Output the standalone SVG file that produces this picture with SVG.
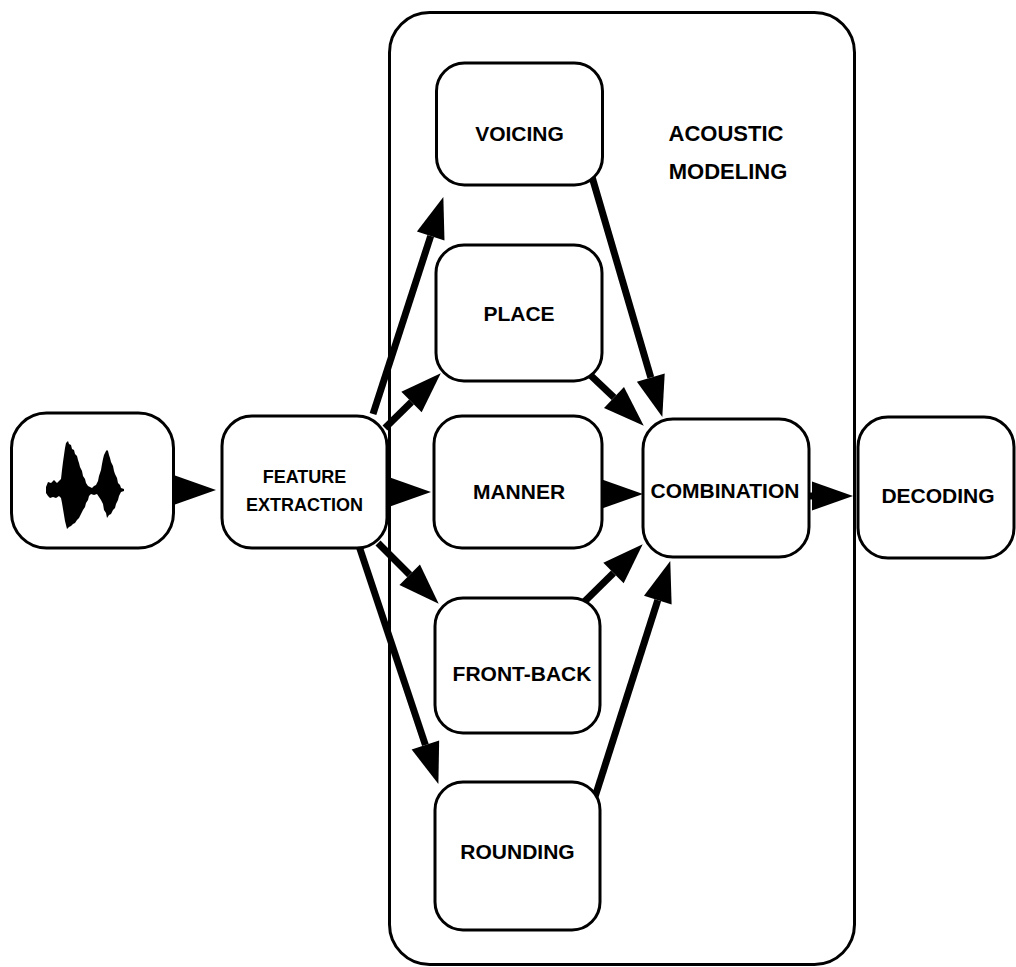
<svg xmlns="http://www.w3.org/2000/svg" width="1016" height="967" viewBox="0 0 1016 967">
<style>
.box{fill:#fff;stroke:#000;stroke-width:3}
.cont{fill:#fff;stroke:#000;stroke-width:3}
.arr{fill:none;stroke:#000;stroke-width:7;marker-end:url(#head)}
.lbl{font-family:"Liberation Sans",Arial,sans-serif;font-weight:bold;font-size:21px;text-anchor:middle;fill:#000}
.fe{font-size:18px}
.am{font-size:22px}
</style>
<defs>
<marker id="head" markerUnits="userSpaceOnUse" markerWidth="42" markerHeight="30" refX="0" refY="14.5" orient="auto" overflow="visible">
<path d="M0,0 L41,14.5 L0,29 z" fill="#000"/>
</marker>
</defs>
<rect id="acoustic-modeling" class="cont" x="389.5" y="12.5" width="465" height="952" rx="40"/>
<text class="lbl am" x="726" y="141">ACOUSTIC</text>
<text class="lbl am" x="728" y="179">MODELING</text>
<g id="connectors">
<path class="arr" d="M170,490 L175,490"/>
<path class="arr" d="M385,492 L390,492"/>
<path class="arr" d="M598,494 L602,494"/>
<path class="arr" d="M806,496 L812,496"/>
<path class="arr" d="M373,414 L430.7,236"/>
<path class="arr" d="M385,428 L411.5,402"/>
<path class="arr" d="M378,543 L409.7,574.7"/>
<path class="arr" d="M359,546 L425.4,745"/>
<path class="arr" d="M590,170 L650.8,377.6"/>
<path class="arr" d="M585,370 L614,397.5"/>
<path class="arr" d="M580,606 L613.5,573"/>
<path class="arr" d="M594,800 L657.8,600.1"/>
</g>
<g id="waveform">
<rect class="box" x="11.5" y="413" width="162" height="135" rx="35"/>
<path fill="#000" d="M46,487 L48,482 L51,483 L54,480 L57,483 L59,481 L61,479 L62,470 L63,462 L64,455 L65,448 L66,443 L68,441 L69,444 L71,445 L72,449 L74,450 L75,454 L77,456 L78,460 L79,463 L80,467 L82,471 L83,476 L85,479 L86,483 L88,486 L90,487 L92,488 L94,486 L96,485 L98,481 L99,476 L101,470 L102,464 L103,459 L104,455 L106,451 L107,450 L108,451 L109,455 L110,458 L111,462 L113,466 L114,471 L115,474 L117,478 L118,483 L120,485 L121,488 L124,489 L124,491 L121,492 L119,496 L118,500 L116,504 L115,508 L113,510 L111,514 L109,515 L107,518 L106,513 L104,510 L103,504 L101,500 L99,497 L97,494 L94,495 L91,494 L89,496 L88,500 L86,503 L85,507 L83,510 L81,514 L79,518 L77,520 L75,523 L73,524 L71,526 L69,527 L67,529 L66,525 L65,521 L64,515 L63,509 L62,503 L61,498 L59,496 L56,498 L53,497 L50,498 L48,496 L46,493 z"/>
</g>
<g id="feature-extraction">
<rect class="box" x="222" y="416" width="165" height="132" rx="30"/>
<text class="lbl fe" x="304.5" y="483">FEATURE</text>
<text class="lbl fe" x="304.5" y="511">EXTRACTION</text>
</g>
<g id="voicing">
<rect class="box" x="436.5" y="63" width="166" height="122" rx="28"/>
<text class="lbl" x="519.5" y="141">VOICING</text>
</g>
<g id="place">
<rect class="box" x="436" y="245" width="166" height="136" rx="28"/>
<text class="lbl" x="519" y="321">PLACE</text>
</g>
<g id="manner">
<rect class="box" x="434" y="416" width="168" height="132" rx="28"/>
<text class="lbl" x="519" y="499">MANNER</text>
</g>
<g id="front-back">
<rect class="box" x="435" y="598" width="165" height="135" rx="28"/>
<text class="lbl" x="522" y="681">FRONT-BACK</text>
</g>
<g id="rounding">
<rect class="box" x="435" y="782" width="165" height="148" rx="28"/>
<text class="lbl" x="517.5" y="859">ROUNDING</text>
</g>
<g id="combination">
<rect class="box" x="643" y="419" width="166" height="138" rx="30"/>
<text class="lbl" x="725" y="498">COMBINATION</text>
</g>
<g id="decoding">
<rect class="box" x="858" y="417" width="156" height="141" rx="30"/>
<text class="lbl" x="938" y="503">DECODING</text>
</g>
</svg>
